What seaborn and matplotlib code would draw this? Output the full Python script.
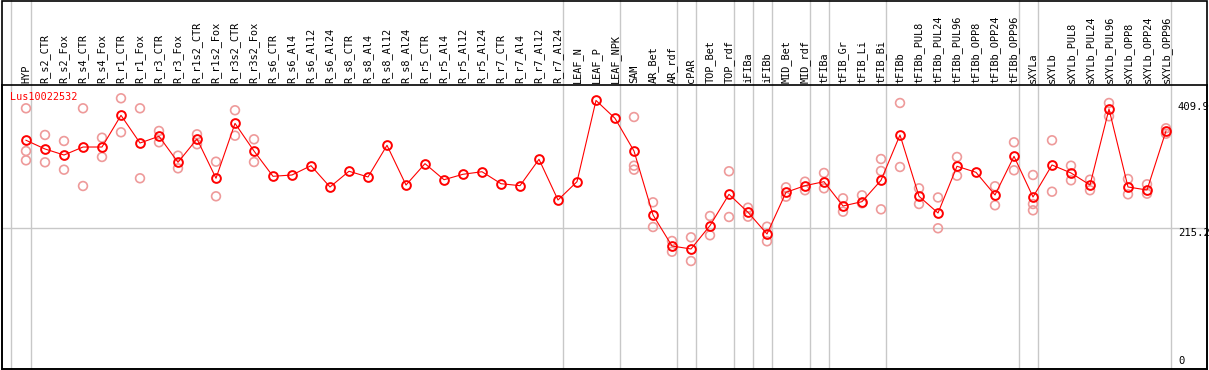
import matplotlib
matplotlib.use("Agg")
import matplotlib.pyplot as plt
from matplotlib.patches import Rectangle
import pandas as pd
import seaborn as sns

# sample names (columns of the header)
samples = ["HYP", "R_s2_CTR", "R_s2_Fox", "R_s4_CTR", "R_s4_Fox", "R_r1_CTR", "R_r1_Fox",
           "R_r3_CTR", "R_r3_Fox", "R_r1s2_CTR", "R_r1s2_Fox", "R_r3s2_CTR", "R_r3s2_Fox",
           "R_s6_CTR", "R_s6_Al4", "R_s6_Al12", "R_s6_Al24", "R_s8_CTR", "R_s8_Al4",
           "R_s8_Al12", "R_s8_Al24", "R_r5_CTR", "R_r5_Al4", "R_r5_Al12", "R_r5_Al24",
           "R_r7_CTR", "R_r7_Al4", "R_r7_Al12", "R_r7_Al24", "LEAF_N", "LEAF_P", "LEAF_NPK",
           "SAM", "AR_Bet", "AR_rdf", "cPAR", "TOP_Bet", "TOP_rdf", "iFIBa", "iFIBb",
           "MID_Bet", "MID_rdf", "tFIBa", "tFIB_Gr", "tFIB_Li", "tFIB_Bi", "tFIBb",
           "tFIBb_PUL8", "tFIBb_PUL24", "tFIBb_PUL96", "tFIBb_OPP8", "tFIBb_OPP24",
           "tFIBb_OPP96", "sXYLa", "sXYLb", "sXYLb_PUL8", "sXYLb_PUL24", "sXYLb_PUL96",
           "sXYLb_OPP8", "sXYLb_OPP24", "sXYLb_OPP96"]

# mean expression per sample
means = [349.1, 335.8, 326.6, 338.8, 338.8, 387.2, 344.9, 355.2, 315.5, 351.1, 291.1,
         374.9, 332.7, 294.1, 296.1, 310.3, 277.8, 301.8, 293.1, 341.4, 280.8, 313.4,
         288.9, 297.2, 301.1, 282.8, 279.8, 320.1, 257.9, 285.9, 409.9, 382.6, 332.7,
         235.1, 187.7, 183.2, 218.9, 266.6, 239.2, 206.1, 269.7, 279.8, 285.9, 248.8,
         255.4, 288.0, 357.2, 263.6, 238.1, 309.4, 300.2, 265.6, 324.6, 262.5, 311.4,
         299.2, 280.8, 396.8, 277.8, 273.2, 363.3]

# replicate values per sample (empty where only one value)
replicates = [[397.9, 332.7, 318.5], [357.2, 315.5], [348.0, 304.2], [397.9, 279.3],
              [353.0, 323.6], [413.2, 361.3], [397.9, 291.1], [363.3, 346.0], [325.6, 306.3],
              [358.2, 343.0], [316.4, 263.6], [394.9, 356.1], [350.6, 315.9],
              [], [], [], [], [], [], [], [], [], [], [], [], [], [], [], [], [], [], [],
              [384.6, 310.3, 304.2], [254.4, 216.7], [195.4, 179.0], [201.0, 164.8],
              [233.5, 204.1], [301.8, 232.0], [246.2, 232.5], [217.2, 194.9], [277.3, 263.0],
              [285.9, 272.8], [299.2, 275.8], [260.5, 240.1], [265.1, 252.9],
              [320.5, 302.2, 243.7], [406.0, 308.3], [275.8, 251.8], [261.8, 214.8],
              [323.6, 295.0], [], [278.9, 249.9], [346.0, 303.3], [296.1, 251.8, 242.2],
              [349.1, 270.6], [310.3, 288.0], [288.9, 272.8], [406.0, 385.7], [290.0, 266.6],
              [281.9, 267.6], [367.4, 359.1]]

# last sample of each tissue group (separator lines)
group_ends = ["HYP", "R_r7_Al24", "LEAF_NPK", "AR_rdf", "cPAR", "TOP_rdf", "iFIBa", "iFIBb",
              "MID_rdf", "tFIBa", "tFIB_Bi", "tFIBb_OPP96", "sXYLa", "sXYLb_OPP96"]

gene = "Lus10022532"
ref_values = [409.9, 215.2]

plt.rcParams["font.family"] = ["DejaVu Sans Mono"]
plt.rcParams["font.size"] = 7.4

pos = list(range(len(samples)))
df_mean = pd.DataFrame({"pos": pos, "value": means})
rows = [(i, v) for i, vals in enumerate(replicates) for v in vals]
df_rep = pd.DataFrame(rows, columns=["pos", "value"])

W, H = 1209, 370
fig = plt.figure(figsize=(W / 100, H / 100), dpi=100)
ax = fig.add_axes([1.5 / W, 1 / H, 1205.2 / W, 284 / H])

px = 19.0  # pixels per sample
x0 = 26.0  # pixel of the first sample
ax.set_xlim((1.5 - x0) / px, (1206.7 - x0) / px)
top = 284 / 0.6552
ax.set_ylim(0, top)

sep_color = "#c8c8c8"
frac_head = 85 / 284
ax.axvline((10.7 - x0) / px, ymin=0, ymax=1 + frac_head, color=sep_color, lw=1, clip_on=False, zorder=0)
for name in group_ends:
    ax.axvline(samples.index(name) + 4.5 / px, ymin=0, ymax=1 + frac_head,
               color=sep_color, lw=1, clip_on=False, zorder=0)
ax.axhline(ref_values[1], color=sep_color, lw=1, zorder=0)

sns.scatterplot(data=df_rep, x="pos", y="value", marker="o", s=40, facecolor="none",
                edgecolor="#ee9a9a", linewidth=1.2, ax=ax, zorder=2)
sns.lineplot(data=df_mean, x="pos", y="value", color="red", lw=0.8, marker="o", ms=6.3,
             mfc="none", mec="red", mew=1.4, ax=ax, zorder=3)

ax.set_xticks(pos)
ax.set_xticklabels(samples, rotation=90)
ax.tick_params(axis="x", top=True, labeltop=True, bottom=False, labelbottom=False,
               length=0, pad=1.5)
ax.set_yticks([])
ax.set_xlabel("")
ax.set_ylabel("")
for s in ax.spines.values():
    s.set_color("black")
    s.set_linewidth(1.2)

lab_x = (1178 - x0) / px
ax.text(lab_x, ref_values[0] - 3, f"{ref_values[0]}", va="top", ha="left", fontsize=7.6)
ax.text(lab_x, ref_values[1], f"{ref_values[1]}", va="top", ha="left", fontsize=7.6)
ax.text(lab_x, 4, "0", va="bottom", ha="left", fontsize=7.6)
ax.text((9.7 - x0) / px, (369 - 92) / 0.6552, gene, color="red", va="top", ha="left", fontsize=7.3)

# header frame
fig.add_artist(Rectangle((1.5 / W, 1 / H), 1205.2 / W, 368.5 / H, fill=False,
                         ec="black", lw=1.2, transform=fig.transFigure))

fig.savefig("out.png", dpi=100)
